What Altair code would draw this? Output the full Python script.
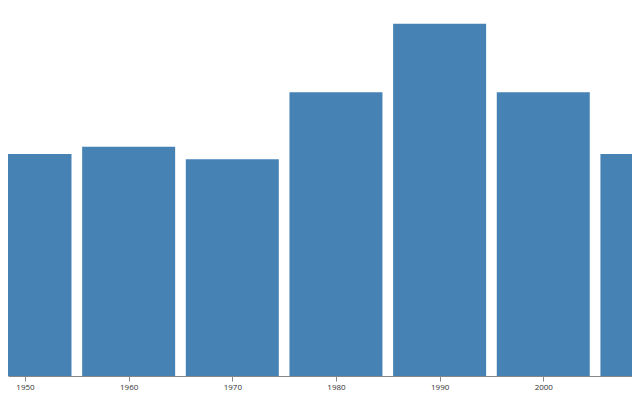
import altair as alt
import pandas as pd

years = [1950, 1960, 1970, 1980, 1990, 2000, 2010]
values = [60.3, 62.3, 58.9, 77.1, 95.7, 77.1, 60.3]
tick_years = [1950, 1960, 1970, 1980, 1990, 2000, 2010]

df = pd.DataFrame({"year": years, "value": values})

chart = (
    alt.Chart(df)
    .mark_bar(size=93, color="steelblue", clip=True)
    .encode(
        x=alt.X(
            "year:Q",
            scale=alt.Scale(domain=[1948.36, 2008.56], nice=False, zero=False, padding=0),
            axis=alt.Axis(
                title=None,
                values=tick_years,
                format="d",
                grid=False,
                labelFlush=False,
                labelFontSize=8,
                labelFont="Open Sans",
                labelColor="#333",
                domainColor="#888",
                tickColor="#888",
            ),
        ),
        y=alt.Y("value:Q", scale=alt.Scale(domain=[0, 100], padding=0), axis=None),
    )
    .properties(
        width=624,
        height=368,
        padding={"left": 0, "top": 0, "right": 0, "bottom": 16},
        autosize="none",
    )
    .configure_view(stroke=None)
)

chart.save("out.html", embed_options={"renderer": "svg", "actions": False})
